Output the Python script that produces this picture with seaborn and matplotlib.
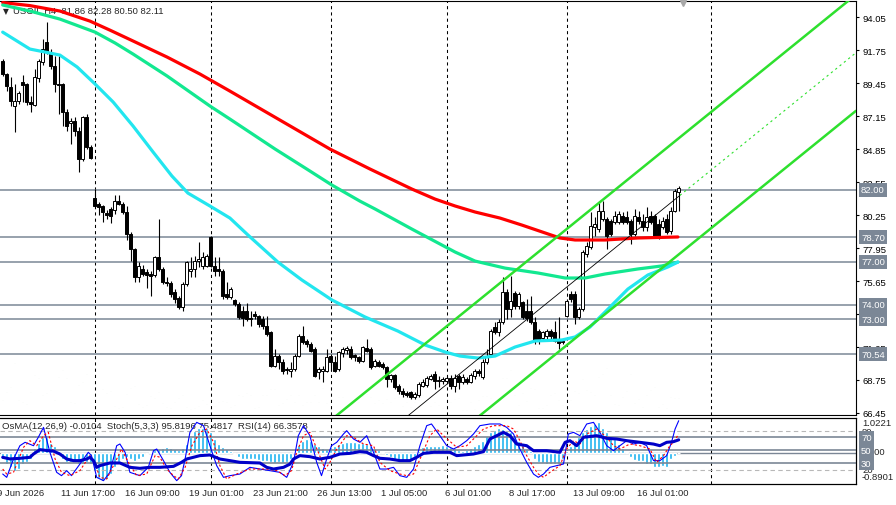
#!/usr/bin/env python3
"""
H4 crude oil chart: candles, moving averages, trend channel, key levels,
tick volume and an OsMA / Stochastic / RSI sub-window.
"""

import numpy as np
import matplotlib
matplotlib.use('Agg')
import matplotlib.pyplot as plt
import seaborn as sns

# ---- H4 bars (index 0..169) ----
opens = [
    90.98, 90.08, 89.17, 87.85, 88.20, 89.52, 89.38, 88.13, 87.92, 89.80,
    90.91, 92.31, 91.61, 90.63, 89.38, 89.38, 87.43, 86.66, 86.80, 86.10,
    84.15, 87.08, 84.99, 81.43, 81.02, 80.88, 80.39, 80.67, 80.60, 81.22,
    81.02, 80.46, 78.93, 77.88, 75.93, 76.49, 76.28, 76.14, 76.07, 77.32,
    76.49, 75.58, 75.51, 74.88, 74.47, 73.84, 75.44, 76.35, 76.49, 77.04,
    76.70, 76.70, 78.72, 76.70, 76.49, 76.35, 74.75, 74.54, 74.33, 74.05,
    73.56, 73.56, 73.07, 73.35, 73.21, 73.00, 72.51, 72.09, 69.73, 70.42,
    70.00, 69.52, 69.38, 69.52, 70.42, 71.82, 71.47, 71.26, 70.91, 69.31,
    69.38, 69.38, 70.42, 70.00, 69.52, 70.63, 70.84, 70.91, 70.49, 70.35,
    70.07, 70.98, 70.91, 69.73, 70.00, 69.86, 69.66, 68.82, 69.10, 68.33,
    67.98, 67.84, 67.91, 67.56, 67.70, 68.33, 68.40, 68.82, 69.17, 68.68,
    68.68, 68.68, 68.89, 68.33, 69.03, 68.61, 68.82, 68.61, 69.03, 69.38,
    68.96, 70.00, 70.56, 72.44, 72.09, 72.79, 74.88, 73.70, 74.82, 73.91,
    74.19, 73.56, 73.56, 72.79, 72.16, 71.68, 71.82, 72.16, 72.09, 71.61,
    71.47, 73.21, 74.75, 74.75, 73.14, 73.70, 77.53, 78.02, 79.41, 79.27,
    79.97, 79.97, 79.83, 79.76, 79.76, 80.18, 80.11, 79.83, 78.93, 80.11,
    79.83, 79.41, 80.18, 80.18, 79.62, 79.41, 79.97, 79.13, 80.53, 81.86]
highs = [
    91.12, 90.15, 89.87, 89.38, 88.89, 90.01, 89.45, 88.55, 90.43, 91.12,
    92.52, 93.70, 91.82, 91.33, 91.33, 89.45, 87.64, 87.01, 87.08, 86.38,
    87.15, 87.29, 85.13, 82.06, 81.16, 80.95, 80.60, 80.81, 81.64, 81.64,
    81.16, 80.88, 79.06, 77.95, 76.97, 76.77, 76.49, 76.35, 77.39, 79.97,
    76.63, 75.93, 75.65, 75.09, 74.61, 75.58, 77.04, 77.32, 77.39, 78.37,
    77.67, 77.53, 78.79, 77.32, 77.32, 76.49, 75.58, 75.23, 74.40, 74.19,
    73.91, 74.12, 73.56, 73.56, 73.28, 73.21, 73.21, 72.16, 70.91, 70.56,
    70.21, 69.66, 70.00, 70.56, 71.95, 72.51, 71.61, 71.40, 71.05, 69.66,
    69.73, 70.91, 70.56, 70.42, 70.77, 71.05, 71.12, 71.12, 70.56, 70.42,
    71.12, 71.61, 71.05, 70.21, 70.14, 70.00, 69.73, 69.17, 69.17, 68.47,
    68.19, 67.98, 67.98, 67.91, 68.61, 68.82, 69.03, 69.17, 69.38, 69.03,
    68.96, 69.03, 69.10, 69.17, 69.17, 69.17, 68.96, 69.24, 69.52, 69.52,
    70.21, 70.91, 72.30, 72.79, 73.00, 75.93, 75.09, 76.00, 74.95, 74.88,
    74.26, 74.40, 74.61, 73.14, 72.30, 72.16, 72.30, 72.30, 72.86, 73.14,
    71.61, 74.40, 74.95, 74.95, 73.84, 77.81, 78.37, 80.46, 80.11, 81.22,
    81.22, 80.11, 79.97, 80.53, 80.53, 80.46, 80.53, 79.97, 80.67, 80.53,
    80.32, 80.81, 80.53, 80.32, 79.97, 80.11, 80.32, 80.81, 82.06, 82.28]
lows = [
    89.94, 88.89, 87.85, 86.03, 87.99, 88.13, 87.92, 87.43, 87.85, 89.52,
    90.70, 91.47, 90.43, 88.82, 87.29, 86.45, 86.10, 85.20, 85.76, 83.25,
    84.01, 84.85, 84.15, 80.81, 80.25, 79.76, 79.97, 79.69, 80.32, 80.95,
    80.32, 78.51, 77.04, 75.58, 75.58, 76.00, 75.16, 74.61, 75.93, 76.35,
    75.44, 75.30, 74.54, 74.12, 73.70, 73.56, 75.30, 75.93, 75.93, 76.63,
    76.49, 76.63, 76.63, 76.00, 76.00, 74.40, 74.40, 74.40, 73.91, 73.00,
    72.51, 72.86, 72.51, 73.00, 72.44, 72.30, 71.82, 69.66, 69.66, 69.52,
    69.17, 69.17, 68.96, 69.38, 70.35, 71.26, 71.05, 70.70, 68.96, 68.82,
    68.61, 69.31, 69.38, 69.31, 69.38, 70.35, 70.56, 70.21, 70.07, 69.93,
    70.00, 70.70, 69.52, 69.66, 69.66, 69.52, 68.26, 68.61, 68.12, 67.77,
    67.56, 67.56, 67.42, 67.42, 67.56, 68.26, 68.26, 68.75, 68.12, 68.26,
    68.47, 68.61, 68.12, 67.91, 68.12, 68.47, 68.47, 68.54, 68.82, 69.03,
    68.82, 69.86, 70.42, 71.95, 71.82, 72.65, 73.00, 73.14, 73.70, 73.70,
    73.00, 72.86, 72.65, 71.26, 71.26, 71.47, 71.61, 71.61, 71.40, 70.91,
    71.26, 73.14, 74.19, 72.65, 73.00, 73.56, 77.32, 77.88, 78.79, 79.06,
    79.83, 77.88, 78.79, 79.62, 79.62, 79.62, 79.62, 78.23, 78.79, 79.62,
    79.13, 79.13, 79.62, 78.72, 78.58, 79.27, 78.93, 78.93, 80.46, 80.50]
closes = [
    90.08, 89.24, 88.20, 88.20, 88.75, 89.31, 88.13, 87.99, 89.87, 90.98,
    91.82, 91.68, 90.63, 89.38, 89.31, 87.43, 86.45, 86.80, 86.10, 84.15,
    87.08, 84.99, 84.22, 80.88, 80.81, 80.46, 80.25, 80.18, 81.22, 81.02,
    80.46, 78.93, 77.88, 75.93, 76.69, 76.14, 76.07, 76.00, 77.32, 76.49,
    75.58, 75.51, 74.75, 74.40, 73.84, 75.44, 76.97, 76.49, 77.04, 77.18,
    77.32, 77.39, 76.70, 76.35, 76.35, 74.61, 74.54, 75.09, 74.05, 73.14,
    73.07, 73.00, 73.00, 73.21, 72.65, 72.51, 71.95, 69.73, 70.42, 70.00,
    69.38, 69.45, 69.52, 70.42, 71.82, 71.40, 71.26, 70.77, 69.03, 69.52,
    69.52, 70.35, 70.00, 69.38, 70.70, 70.91, 71.00, 70.35, 70.35, 70.07,
    71.05, 70.77, 69.66, 70.07, 69.73, 69.66, 68.82, 69.10, 68.26, 67.98,
    67.77, 67.70, 67.56, 67.77, 68.47, 68.61, 68.89, 69.03, 68.68, 68.75,
    68.82, 68.89, 68.33, 68.89, 68.61, 68.96, 68.61, 69.10, 69.38, 69.24,
    70.00, 70.42, 72.16, 72.09, 72.79, 74.88, 73.70, 74.26, 73.91, 74.75,
    73.14, 73.07, 72.79, 71.47, 71.47, 72.09, 72.16, 71.82, 71.47, 71.33,
    71.40, 74.26, 74.40, 73.14, 73.70, 77.67, 78.09, 79.48, 79.62, 80.53,
    80.53, 78.79, 78.93, 80.18, 80.32, 79.76, 79.76, 78.93, 80.18, 79.83,
    79.41, 80.11, 79.76, 78.79, 78.79, 79.83, 79.06, 80.53, 81.92, 82.11]
volumes = [
    1500, 2300, 2800, 5200, 1500, 1300, 1100, 2300, 4000, 3700,
    2000, 2200, 2500, 1500, 3800, 4500, 3700, 1300, 1200, 3000,
    3300, 4100, 1200, 2100, 1500, 2600, 2200, 2400, 900, 700,
    800, 2100, 2700, 2900, 1100, 800, 1000, 1900, 1700, 2300,
    1200, 800, 700, 1300, 1700, 2000, 800, 600, 700, 900,
    1500, 1100, 1200, 900, 1300, 1400, 1300, 800, 1000, 2000,
    1900, 2200, 2000, 700, 800, 2000, 2000, 2600, 2600, 1000,
    1200, 1600, 2000, 1300, 2000, 1000, 1300, 1300, 2000, 1300,
    2700, 1200, 1200, 500, 1800, 1800, 800, 1200, 1500, 1300,
    1900, 2100, 1800, 1200, 1500, 1200, 1600, 1300, 1700, 1800,
    900, 1300, 800, 1300, 1500, 2000, 1300, 900, 1300, 1000,
    700, 1000, 1300, 1600, 1700, 500, 500, 1300, 600, 1500,
    1900, 1900, 1700, 1300, 1300, 3700, 3700, 4500, 2000, 1000,
    2200, 1400, 2700, 2600, 700, 700, 1000, 2000, 2200, 1500,
    1000, 800, 1500, 2400, 2200, 3600, 2500, 2300, 2000, 3800,
    4100, 4700, 2000, 1100, 1000, 1800, 2400, 4100, 1200, 1600,
    800, 2000, 2500, 2800, 800, 1100, 700, 1800, 1700, 1700]

# ---- moving averages (bar, price) ----
ma_red_bars = [0, 6.8, 14.3, 21.8, 26.8, 32.6, 41.1, 49.3, 56.8, 69.3, 81.8, 91.8,
               102.3, 108.1, 113.1, 118.1, 124.3, 129.8, 135.6, 139.3, 143.1, 150.6,
               158.8, 168.8]
ma_red = [95.06, 94.85, 94.47, 93.77, 93.14, 92.38, 91.26, 90.08, 88.89, 86.87, 84.85, 83.46,
          82.06, 81.36, 80.88, 80.46, 80.04, 79.55, 79.00, 78.65, 78.51, 78.51,
          78.65, 78.72]
ma_green_bars = [0, 6.8, 14.3, 23.1, 28.1, 32.6, 41.1, 51.8, 56.8, 68.1, 75.6, 82.3, 89.3,
                 93.1, 102.3, 113.1, 118.1, 125.6, 133.8, 140.6, 145.6, 150.6, 158.8,
                 164.8, 168.8]
ma_green = [94.89, 94.47, 93.91, 93.00, 92.24, 91.47, 89.94, 87.85, 86.94, 84.85, 83.53, 82.34,
            81.22, 80.67, 79.27, 77.67, 77.04, 76.55, 76.21, 75.86, 75.86, 76.14, 76.49,
            76.70, 76.97]
ma_cyan_bars = [0, 6.8, 10.6, 14.3, 18.6, 23.1, 27.6, 32.6, 37.6, 42.3, 46.3, 51.8, 56.8,
                61.3, 68.8, 74.8, 82.3, 90.6, 98.8, 105.6, 110.6, 114.3, 118.8, 123.1,
                128.1, 133.1, 139.8, 143.1, 146.8, 150.6, 156.3, 161.3, 166.3, 168.8]
ma_cyan = [93.00, 91.82, 91.61, 91.40, 90.57, 89.38, 88.13, 86.45, 84.64, 82.97, 81.78, 80.88,
           80.04, 78.86, 76.97, 75.72, 74.33, 73.14, 72.16, 71.19, 70.70, 70.42, 70.28,
           70.42, 71.05, 71.47, 71.54, 71.75, 72.44, 73.49, 75.09, 76.07, 76.63, 76.97]

# ---- trend channel end points ----
channel_bars = [80.0, 213.3]
channel_upper = [65.49, 95.61]
channel_lower = [57.39, 87.51]
channel_mid_bars = [80.0, 169.3, 213.3]
channel_mid = [61.44, 81.62, 91.56]

levels = [82.00, 78.70, 77.00, 74.00, 73.00, 70.54]
price_ticks = [94.05, 91.75, 89.45, 87.15, 84.85, 82.55, 80.25, 77.95, 75.65,
               73.35, 71.05, 68.75, 66.45]
separators = [23, 52, 82, 111, 141, 177]
tick_bars = [-1, 15, 31, 47, 63, 79, 95, 111, 127, 143, 159]
tick_labels = ['9 Jun 2026', '11 Jun 17:00', '16 Jun 09:00', '19 Jun 01:00',
               '23 Jun 21:00', '26 Jun 13:00', '1 Jul 05:00', '6 Jul 01:00',
               '8 Jul 17:00', '13 Jul 09:00', '16 Jul 01:00']

# ---- sub-window ----
osma = [
    -0.19, -0.33, -0.43, -0.53, -0.48, -0.33, -0.28, -0.19, 0.13, 0.30,
    0.45, 0.45, 0.30, 0.19, 0.06, -0.19, -0.28, -0.28, -0.26, -0.33,
    -0.33, -0.28, -0.33, -0.53, -0.73, -0.82, -0.77, -0.63, -0.43, -0.28,
    -0.19, -0.14, -0.19, -0.24, -0.19, -0.14, -0.04, 0.01, 0.09, 0.11,
    0.13, 0.16, 0.13, 0.11, 0.09, 0.13, 0.25, 0.45, 0.65, 0.72,
    0.74, 0.74, 0.60, 0.40, 0.25, 0.16, 0.11, 0.06, -0.04, -0.14,
    -0.17, -0.19, -0.19, -0.19, -0.21, -0.24, -0.24, -0.28, -0.30, -0.28,
    -0.30, -0.28, -0.19, 0.01, 0.23, 0.35, 0.40, 0.35, 0.25, 0.19,
    0.13, 0.11, 0.16, 0.21, 0.25, 0.30, 0.32, 0.33, 0.33, 0.30,
    0.30, 0.25, 0.19, 0.13, 0.09, 0.03, -0.07, -0.14, -0.21, -0.25,
    -0.26, -0.26, -0.24, -0.14, 0.06, 0.16, 0.19, 0.21, 0.21, 0.21,
    0.23, 0.21, 0.16, 0.13, 0.09, 0.06, 0.09, 0.13, 0.19, 0.25,
    0.35, 0.50, 0.60, 0.68, 0.72, 0.70, 0.65, 0.62, 0.50, 0.35,
    0.23, 0.11, 0.06, -0.19, -0.26, -0.30, -0.33, -0.33, -0.33, -0.33,
    -0.19, 0.06, 0.21, 0.30, 0.45, 0.60, 0.70, 0.79, 0.84, 0.91,
    0.74, 0.60, 0.50, 0.40, 0.25, 0.13, 0.03, -0.14, -0.21, -0.24,
    -0.24, -0.33, -0.33, -0.43, -0.43, -0.40, -0.43, -0.17, -0.09, -0.0104]
stoch_bars = [0, 1.0, 2.7, 4.3, 5.6, 7.7, 8.9, 10.2, 11.8, 13.5, 14.7, 16.0, 17.2, 19.3,
              21.4, 22.2, 23.5, 25.2, 26.8, 28.5, 29.3, 30.6, 31.8, 34.3, 36.4, 37.7, 38.5,
              40.2, 41.8, 43.5, 44.7, 45.6, 46.8, 48.5, 50.2, 51.8, 53.5, 55.2, 56.8, 59.3,
              61.8, 64.3, 66.8, 69.3, 71.0, 72.7, 73.9, 75.2, 76.8, 78.5, 79.7, 81.0, 82.2,
              83.5, 85.2, 86.0, 87.7, 89.3, 91.0, 92.7, 94.3, 96.0, 97.7, 99.3, 101.0, 102.7,
              104.3, 106.0, 107.2, 109.3, 111.0, 112.7, 114.3, 116.0, 117.7, 119.3, 121.8,
              124.3, 126.0, 127.7, 129.3, 131.0, 132.7, 133.9, 135.2, 136.8, 138.5, 140.2,
              141.4, 142.7, 144.3, 146.0, 147.7, 149.3, 151.0, 152.7, 154.3, 156.0, 157.7,
              159.3, 161.0, 162.7, 164.3, 166.0, 167.2, 168.1, 169.0]
stoch_main = [13.8, 8.7, 36.9, 57.4, 62.6, 57.4, 70.3, 85.6, 47.2, 16.4, 11.3, 19.0, 11.3, 29.2,
              47.2, 42.1, 8.7, 3.6, 16.4, 57.4, 60.0, 47.2, 16.4, 11.3, 24.1, 49.7, 52.3,
              34.4, 16.4, 3.6, 11.3, 36.9, 77.9, 93.3, 88.2, 57.4, 26.7, 8.7, 11.3, 13.8,
              24.1, 21.5, 19.0, 16.4, 8.7, 31.8, 72.8, 88.2, 72.8, 31.8, 11.3, 36.9, 57.4,
              62.6, 75.4, 80.5, 67.7, 62.6, 72.8, 47.2, 21.5, 21.5, 24.1, 11.3, 8.7, 21.5,
              57.4, 88.2, 90.8, 72.8, 57.4, 52.3, 57.4, 65.1, 75.4, 88.2, 90.8,
              90.8, 85.6, 75.4, 52.3, 31.8, 13.8, 8.7, 13.8, 24.1, 26.7, 29.2,
              75.4, 77.9, 72.8, 90.8, 93.3, 77.9, 57.4, 49.7, 57.4, 65.1, 60.0,
              62.6, 57.4, 34.4, 34.4, 42.1, 62.6, 83.1, 95.8]
signal_bars = [0, 1.0, 2.7, 5.2, 6.8, 8.5, 10.2, 11.4, 13.1, 14.7, 16.8, 19.3, 21.8, 23.1,
               24.3, 26.0, 28.1, 29.7, 31.4, 33.5, 36.0, 38.1, 39.3, 41.0, 42.7, 43.9, 45.6,
               47.3, 49.3, 51.0, 52.7, 54.3, 56.0, 58.5, 61.8, 66.0, 68.5, 70.6, 72.2, 73.5,
               75.2, 76.8, 78.9, 80.6, 81.8, 83.5, 86.0, 87.7, 90.2, 92.7, 94.3, 96.8, 99.3,
               101.0, 102.7, 104.7, 106.8, 108.5, 110.2, 113.5, 116.0, 117.7, 120.2, 122.7,
               126.0, 127.7, 129.3, 131.0, 132.7, 133.9, 135.2, 136.8, 139.3, 141.0, 142.7,
               144.3, 146.0, 148.5, 151.0, 152.7, 154.3, 156.8, 159.3, 161.8, 163.5, 165.2,
               166.8, 167.7, 169.0]
stoch_signal = [21.5, 13.8, 16.4, 54.9, 65.1, 57.4, 72.8, 77.9, 36.9, 16.4, 11.3, 19.0, 42.1, 29.2,
                8.7, 6.2, 31.8, 52.3, 31.8, 11.3, 13.8, 42.1, 39.5, 21.5, 11.3, 6.2, 24.1,
                57.4, 77.9, 83.1, 62.6, 26.7, 6.2, 13.8, 21.5, 21.5, 19.0, 11.3, 19.0, 47.2,
                72.8, 77.9, 47.2, 21.5, 31.8, 52.3, 72.8, 70.3, 60.0, 57.4, 31.8, 19.0, 13.8,
                11.3, 13.8, 42.1, 72.8, 83.1, 72.8, 54.9, 57.4, 67.7, 83.1, 88.2,
                88.2, 83.1, 65.1, 42.1, 24.1, 13.8, 8.7, 16.4, 26.7, 52.3, 65.1,
                60.0, 75.4, 83.1, 70.3, 57.4, 52.3, 60.0, 57.4, 52.3, 31.8, 42.1,
                57.4, 62.6, 75.4]
rsi_bars = [0, 1.8, 4.3, 6.8, 7.7, 9.3, 11.0, 12.7, 14.3, 16.0, 17.7, 19.3, 21.0, 21.8, 22.7,
            23.5, 24.3, 26.8, 29.3, 31.8, 34.3, 36.8, 39.3, 42.7, 44.7, 46.0, 49.3, 51.8, 54.3,
            56.8, 59.3, 64.3, 66.0, 67.7, 70.2, 71.8, 72.7, 74.3, 76.8, 79.3, 81.8, 84.3, 86.8,
            89.3, 91.0, 92.7, 94.3, 96.8, 99.3, 101.8, 103.5, 105.2, 107.7, 110.2, 111.8, 113.5,
            117.7, 120.2, 121.8, 123.5, 125.2, 126.8, 128.5, 131.0, 132.7, 136.0, 139.3, 140.6,
            141.8, 143.5, 145.2, 148.5, 151.0, 153.5, 156.0, 159.3, 162.7, 164.3, 166.0, 167.7,
            169.0]
rsi = [39.5, 37.0, 38.0, 39.5, 44.6, 51.3, 50.0, 49.0, 44.6, 36.9, 34.4, 34.4, 36.9, 39.5, 34.4,
       24.1, 26.7, 30.8, 30.8, 24.1, 22.6, 24.1, 24.1, 25.6, 31.8, 36.9, 42.1, 43.1, 36.9,
       34.4, 31.8, 30.8, 24.1, 21.5, 24.1, 29.0, 36.9, 42.1, 40.5, 36.9, 39.5, 44.6, 45.6,
       48.2, 47.2, 42.1, 38.0, 36.9, 34.4, 34.4, 39.5, 45.6, 47.2, 47.2, 47.2, 42.1,
       44.6, 48.2, 67.7, 72.8, 77.9, 72.8, 59.9, 57.4, 49.7, 49.7, 47.2, 62.6,
       65.1, 57.4, 70.3, 72.8, 68.7, 67.7, 65.1, 62.6, 59.9, 57.4, 62.6, 63.6,
       66.4]

W, H = 896, 506
LEVEL_GREY = '#7b8796'
LIME = '#2ee02e'
FS = 6.8


def px_rect(x0, y0, x1, y1):
    """pixel box (top-left origin) -> figure fraction rect"""
    return [x0 / W, 1 - y1 / H, (x1 - x0) / W, (y1 - y0) / H]


def draw_price_panel(fig):
    ax_vol = fig.add_axes(px_rect(0, 2, 856, 416))
    ax = fig.add_axes(px_rect(0, 2, 856, 416))
    ax.set_facecolor('none')
    bars = np.arange(len(closes))
    xlim = (-0.675, 213.325)

    # tick volume underneath everything
    ax_vol.bar(bars, volumes, width=0.28, color='#229a22')
    ax_vol.set_xlim(*xlim)
    ax_vol.set_ylim(0, max(volumes) * 414 / 52)
    ax_vol.axis('off')

    for lvl in levels:
        ax.axhline(lvl, color=LEVEL_GREY, lw=1.1, zorder=2)
    for b in separators:
        ax.axvline(b, color='black', lw=0.75, ls=(0, (3, 3)), zorder=1)

    ax.text(3 / 856, 0.978, '\u25bc', transform=ax.transAxes, fontsize=5.5,
            va='center', ha='left', zorder=1, family=['DejaVu Sans'])
    ax.text(13 / 856, 0.978, 'USOIL,H4  81.86 82.28 80.50 82.11', transform=ax.transAxes,
            fontsize=FS, va='center', ha='left', zorder=1)

    # candles
    o, h, l, c = map(np.array, (opens, highs, lows, closes))
    up = c >= o
    ax.vlines(bars, l, h, color='black', lw=0.8, zorder=4)
    body = np.maximum(np.abs(c - o), 0.04)
    ax.bar(bars, body, bottom=np.minimum(o, c), width=0.75,
           color=np.where(up, 'white', 'black'), edgecolor='black', linewidth=0.7, zorder=5)

    # moving averages
    sns.lineplot(x=ma_red_bars, y=ma_red, ax=ax, color='#ff0000', linewidth=2.3, zorder=7)
    sns.lineplot(x=ma_green_bars, y=ma_green, ax=ax, color='#12e890', linewidth=2.3, zorder=7)
    sns.lineplot(x=ma_cyan_bars, y=ma_cyan, ax=ax, color='#22e6ef', linewidth=2.3, zorder=7)

    # channel
    ax.plot(channel_bars, channel_upper, color=LIME, lw=1.8, zorder=8)
    ax.plot(channel_bars, channel_lower, color=LIME, lw=1.8, zorder=8)
    ax.plot(channel_mid_bars[:2], channel_mid[:2], color='black', lw=0.6, zorder=8)
    ax.plot(channel_mid_bars[1:], channel_mid[1:], color=LIME, lw=0.8,
            ls=(0, (2, 3)), zorder=8)

    # chart-shift marker
    ax.plot([170.1], [95.0], marker='v', color='#a8a8a8', ms=5, clip_on=False, zorder=9)

    ax.set_xlim(*xlim)
    ax.set_ylim(66.31, 95.17)
    ax.set_xticks([])
    ax.yaxis.tick_right()
    ax.set_yticks(price_ticks)
    ax.set_yticklabels([f'{t:.2f}' for t in price_ticks])
    ax.tick_params(axis='y', direction='out', length=2.5, width=0.8, pad=2.5,
                   labelsize=FS, colors='black')
    ax.set_xlabel('')
    ax.set_ylabel('')
    for side in ('top', 'bottom', 'right'):
        ax.spines[side].set_color('black')
        ax.spines[side].set_linewidth(0.8)
    ax.spines['left'].set_visible(False)

    for lvl in levels:
        ax.text(1 + 5 / 856, lvl, f'{lvl:.2f}', transform=ax.get_yaxis_transform(),
                ha='left', va='center', color='white', fontsize=FS, clip_on=False, zorder=20,
                bbox=dict(boxstyle='square,pad=0.25', fc=LEVEL_GREY, ec='none'))
    return ax


def draw_indicator_panel(fig):
    ax_sub = fig.add_axes(px_rect(0, 419, 856, 485))
    xlim = (-0.675, 213.325)
    bars = np.arange(len(osma))

    # OsMA histogram on its own scale
    ax_sub.bar(bars, osma, width=0.75, color='#1cb2f0', zorder=2)
    ax_sub.axhline(0, color=LEVEL_GREY, lw=1.0, zorder=1)
    ax_sub.set_xlim(*xlim)
    ax_sub.set_ylim(-0.92, 1.0221)
    ax_sub.text(2 / 856, (485 - 427) / 66,
                'OsMA(12,26,9) -0.0104  Stoch(5,3,3) 95.8196 75.4817  RSI(14) 66.3578',
                transform=ax_sub.transAxes, fontsize=FS, va='center', ha='left', zorder=1)
    for b in separators:
        ax_sub.axvline(b, color='black', lw=0.75, ls=(0, (3, 3)), zorder=1)

    # oscillators, 0..100
    ax_osc = ax_sub.twinx()
    ax_osc.set_ylim(-1.54, 100)
    for lvl in (80, 20):
        ax_osc.axhline(lvl, color='#b8b8b8', lw=0.8, ls=(0, (4, 3)), zorder=1)
    for lvl in (70, 50, 30):
        ax_osc.axhline(lvl, color=LEVEL_GREY, lw=1.2, zorder=1)
    sns.lineplot(x=stoch_bars, y=stoch_main, ax=ax_osc, color='#0000ff', linewidth=0.8, zorder=3)
    sns.lineplot(x=signal_bars, y=stoch_signal, ax=ax_osc, color='#ff0000', linewidth=0.8,
                 linestyle=(0, (2, 2)), zorder=3)
    sns.lineplot(x=rsi_bars, y=rsi, ax=ax_osc, color='#0000c8', linewidth=2.2, zorder=4)
    ax_osc.set_xlim(*xlim)

    for a in (ax_sub, ax_osc):
        a.set_yticks([])
        a.set_ylabel('')
        a.set_xlabel('')
        a.spines['left'].set_visible(False)
        for side in ('top', 'bottom', 'right'):
            a.spines[side].set_color('black')
            a.spines[side].set_linewidth(0.8)
    ax_sub.set_xticks([])

    # right scale texts
    xr = 1 + 6 / 856
    for txt, ypx in (('1.0221', 424), ('80', 433), ('0.000', 453), ('20', 471), ('-0.8901', 478)):
        ax_sub.text(xr, (485 - ypx) / 66, txt, transform=ax_sub.transAxes, fontsize=FS,
                    ha='left', va='center', clip_on=False)
    for lvl in (70, 50, 30):
        ax_osc.text(1 + 5 / 856, lvl, str(lvl), transform=ax_osc.get_yaxis_transform(),
                    ha='left', va='center', color='white', fontsize=FS, clip_on=False, zorder=20,
                    bbox=dict(boxstyle='square,pad=0.25', fc=LEVEL_GREY, ec='none'))

    # time labels
    for b, lab in zip(tick_bars, tick_labels):
        ax_sub.text(b - 0.4, -(494 - 485) / 66, lab, transform=ax_sub.get_xaxis_transform(),
                    fontsize=FS, ha='left', va='center', clip_on=False)
    return ax_sub


def main():
    sns.set_style('white')
    plt.rcParams['font.family'] = ['Liberation Sans', 'DejaVu Sans']
    plt.rcParams['font.size'] = FS

    fig = plt.figure(figsize=(W / 100, H / 100), dpi=100)
    fig.patch.set_facecolor('white')
    draw_price_panel(fig)
    draw_indicator_panel(fig)
    fig.savefig('out.png', dpi=100, facecolor='white')


if __name__ == "__main__":
    main()
